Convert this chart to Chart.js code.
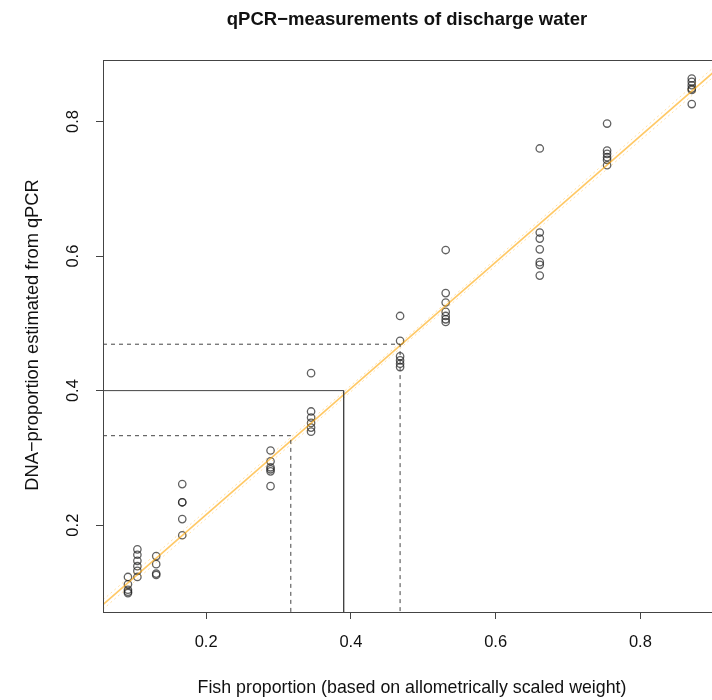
<!DOCTYPE html>
<html>
<head>
<meta charset="utf-8">
<script src="https://cdn.jsdelivr.net/npm/chart.js@4.4.0/dist/chart.umd.min.js"></script>
<style>
  html, body { margin: 0; padding: 0; background: #fff; overflow: hidden; }
  canvas { display: block; }
</style>
</head>
<body>
<canvas id="chart" width="720" height="700"></canvas>
<script>
// fish proportion levels (x) and the qPCR DNA proportions measured at each level (y)
const fishLevels = [0.092, 0.105, 0.131, 0.167, 0.289, 0.345, 0.468, 0.531, 0.661, 0.754, 0.871];
const dnaMeasured = [
  [0.123, 0.112, 0.104, 0.101, 0.099],
  [0.164, 0.156, 0.147, 0.139, 0.132, 0.123],
  [0.154, 0.142, 0.128, 0.126],
  [0.261, 0.234, 0.234, 0.209, 0.185],
  [0.311, 0.295, 0.286, 0.283, 0.280, 0.258],
  [0.426, 0.369, 0.360, 0.352, 0.345, 0.339],
  [0.511, 0.474, 0.451, 0.445, 0.440, 0.435],
  [0.609, 0.545, 0.531, 0.517, 0.511, 0.506, 0.502],
  [0.760, 0.635, 0.626, 0.610, 0.591, 0.587, 0.571],
  [0.797, 0.757, 0.752, 0.747, 0.743, 0.735],
  [0.864, 0.859, 0.854, 0.849, 0.847, 0.826]
];

// fitted line and its confidence band
const fitX = [0.0575, 0.9027];
const fitY = [0.082, 0.875];
const bandX = [0.0575, 0.48, 0.9027];
const bandUpper = [0.089, 0.482, 0.882];
const bandLower = [0.075, 0.474, 0.868];

// reading guides: fish proportion -> DNA proportion (middle one is solid)
const guideX = [0.317, 0.39, 0.468];
const guideY = [0.333, 0.40, 0.469];

// axes
const xRange = [0.0575, 0.9027];
const yRange = [0.0709, 0.8915];
const xTicks = [0.2, 0.4, 0.6, 0.8];
const yTicks = [0.2, 0.4, 0.6, 0.8];

const title = "qPCR\u2212measurements of discharge water";
const xTitle = "Fish proportion (based on allometrically scaled weight)";
const yTitle = "DNA\u2212proportion estimated from qPCR";

let points = [];
fishLevels.forEach((x, i) => {
  dnaMeasured[i].forEach(y => points.push({ x: x, y: y }));
});

let datasets = [];

guideX.forEach((gx, i) => {
  datasets.push({
    type: "line",
    data: [{ x: xRange[0], y: guideY[i] }, { x: gx, y: guideY[i] }, { x: gx, y: yRange[0] }],
    borderColor: "#444",
    borderWidth: 1,
    borderDash: i == 1 ? [] : [4, 4],
    pointRadius: 0,
    fill: false,
  });
});

datasets.push({
  type: "line",
  data: bandX.map((x, i) => ({ x: x, y: bandUpper[i] })),
  borderColor: "rgba(255,165,0,0.35)",
  borderWidth: 1,
  borderDash: [2, 3],
  pointRadius: 0,
});
datasets.push({
  type: "line",
  data: bandX.map((x, i) => ({ x: x, y: bandLower[i] })),
  borderColor: "rgba(255,165,0,0.35)",
  borderWidth: 1,
  borderDash: [2, 3],
  pointRadius: 0,
});
datasets.push({
  type: "line",
  data: fitX.map((x, i) => ({ x: x, y: fitY[i] })),
  borderColor: "rgba(255,165,0,0.6)",
  borderWidth: 1.6,
  pointRadius: 0,
});

datasets.push({
  type: "scatter",
  data: points,
  pointStyle: "circle",
  pointRadius: 3.7,
  backgroundColor: "rgba(0,0,0,0)",
  borderColor: "rgba(30,30,30,0.7)",
  borderWidth: 1.3,
});

// box, titles and tick labels in R style
const frame = {
  id: "frame",
  afterDraw(chart) {
    const c = chart.ctx;
    const a = chart.chartArea;
    const xs = chart.scales.x;
    const ys = chart.scales.y;
    c.save();
    c.strokeStyle = "#444";
    c.lineWidth = 1;
    c.strokeRect(a.left + 0.5, a.top + 0.5, a.right - a.left, a.bottom - a.top);

    c.fillStyle = "#111";
    c.textAlign = "center";
    c.textBaseline = "middle";
    c.font = "bold 18.5px 'Liberation Sans', Arial, sans-serif";
    c.fillText(title, 407, 20);

    c.font = "17.8px 'Liberation Sans', Arial, sans-serif";
    c.fillText(xTitle, 412, 688);

    c.font = "16.5px 'Liberation Sans', Arial, sans-serif";
    xTicks.forEach(v => c.fillText(v.toFixed(1), xs.getPixelForValue(v), 642));

    c.font = "18.3px 'Liberation Sans', Arial, sans-serif";
    c.translate(33, 335);
    c.rotate(-Math.PI / 2);
    c.fillText(yTitle, 0, 0);
    c.restore();

    c.save();
    c.fillStyle = "#111";
    c.textAlign = "center";
    c.textBaseline = "middle";
    c.font = "16.5px 'Liberation Sans', Arial, sans-serif";
    yTicks.forEach(v => {
      c.save();
      c.translate(73, ys.getPixelForValue(v));
      c.rotate(-Math.PI / 2);
      c.fillText(v.toFixed(1), 0, 0);
      c.restore();
    });
    c.restore();
  },
};

new Chart(document.getElementById("chart"), {
  type: "scatter",
  data: { datasets: datasets },
  options: {
    responsive: false,
    animation: false,
    layout: { padding: { top: 60, left: 0, right: 0, bottom: 0 } },
    plugins: { legend: { display: false }, tooltip: { enabled: false }, title: { display: false } },
    scales: {
      x: {
        type: "linear",
        min: xRange[0],
        max: xRange[1],
        afterBuildTicks: s => { s.ticks = xTicks.map(v => ({ value: v })); },
        afterFit: s => { s.height = 88; },
        ticks: { display: false },
        border: { display: false },
        grid: { drawOnChartArea: false, drawTicks: true, tickLength: 7, color: "#444" },
      },
      y: {
        type: "linear",
        min: yRange[0],
        max: yRange[1],
        afterBuildTicks: s => { s.ticks = yTicks.map(v => ({ value: v })); },
        afterFit: s => { s.width = 103; },
        ticks: { display: false },
        border: { display: false },
        grid: { drawOnChartArea: false, drawTicks: true, tickLength: 7, color: "#444" },
      },
    },
  },
  plugins: [frame],
});
</script>
</body>
</html>
